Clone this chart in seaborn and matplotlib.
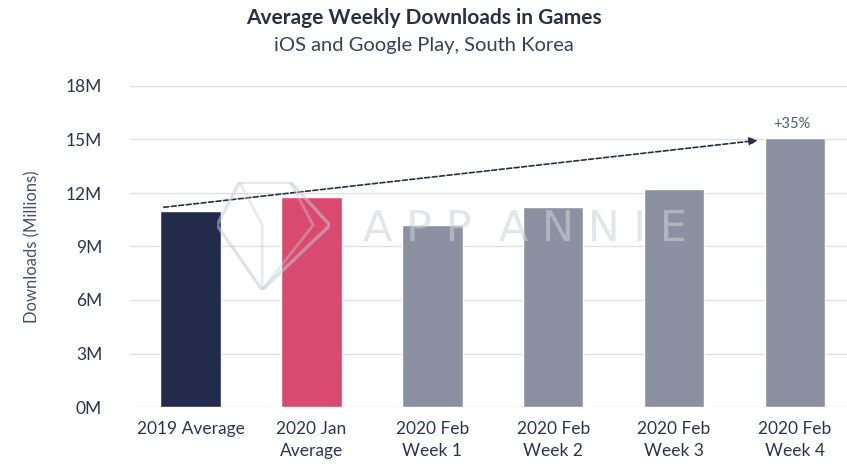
import matplotlib
matplotlib.use("Agg")
import matplotlib.pyplot as plt
from matplotlib.patches import Polygon
import seaborn as sns
import pandas as pd

# Weekly game downloads (millions), iOS + Google Play, South Korea
periods = ["2019 Average", "2020 Jan\nAverage", "2020 Feb\nWeek 1",
           "2020 Feb\nWeek 2", "2020 Feb\nWeek 3", "2020 Feb\nWeek 4"]
downloads = [11.0, 11.8, 10.2, 11.2, 12.2, 15.1]
bar_colors = ["#222b4c", "#d94a6e", "#8c91a1", "#8c91a1", "#8c91a1", "#8c91a1"]
y_ticks = [0, 3, 6, 9, 12, 15, 18]
y_tick_labels = ["0M", "3M", "6M", "9M", "12M", "15M", "18M"]
growth_label = "+35%"
trend_start = 11.2   # just above the 2019 average bar
trend_end = 14.95    # at the top of the final week

sns.set_theme(style="white")
plt.rcParams["font.family"] = ["Lato", "DejaVu Sans"]

df = pd.DataFrame({"period": periods, "downloads": downloads})

fig = plt.figure(figsize=(8.47, 4.65), dpi=100)
ax = fig.add_axes([130 / 847, 1 - 407 / 465, 1 - 130 / 847, (407 - 86) / 465])

sns.barplot(data=df, x="period", y="downloads", hue="period",
            palette=bar_colors, width=0.5, legend=False, ax=ax,
            saturation=1, zorder=3)

ax.set_xlim(-0.5, (847 - 190) / 121)
ax.set_ylim(0, 18)
ax.set_yticks(y_ticks)
ax.set_yticklabels(y_tick_labels)
ax.yaxis.grid(True, color="#e1e1e4", linewidth=1.0, zorder=0)
ax.set_axisbelow(True)
for s in ax.spines.values():
    s.set_visible(False)
ax.tick_params(axis="both", length=0, labelsize=12.5, colors="#2e3450")
ax.tick_params(axis="y", pad=20)
ax.tick_params(axis="x", pad=10)
for lbl in ax.get_xticklabels():
    lbl.set_linespacing(1.45)
ax.set_xlabel("")
ax.set_ylabel("Downloads (Millions)", fontsize=12, color="#4a5068", labelpad=18)

# faint watermark: gem outline and wordmark drawn over the bars
gem_ax = fig.add_axes([217 / 847, 1 - 290 / 465, 113 / 847, 108 / 465])
gem_ax.axis("off")
gem_ax.add_patch(Polygon([(0.2, 1.0), (0.65, 1.0), (1.0, 0.6), (0.4, 0.0),
                          (0.0, 0.6)], closed=True, fill=False,
                         edgecolor="#c9cbd4", alpha=0.5, lw=2.5))
gem_ax.add_patch(Polygon([(0.2, 1.0), (0.4, 0.6), (0.4, 0.0)], closed=False,
                         fill=False, edgecolor="#c9cbd4", alpha=0.4, lw=2.0))
gem_ax.add_patch(Polygon([(0.65, 1.0), (0.85, 0.6), (0.4, 0.0)], closed=False,
                         fill=False, edgecolor="#c9cbd4", alpha=0.4, lw=2.0))
gem_ax.set_xlim(0, 1)
gem_ax.set_ylim(0, 1)
ax.text(2.77, 10.0, "A P P  A N N I E", fontsize=31, color="#cfd1d9",
        alpha=0.55, ha="center", va="center", zorder=5,
        family="DejaVu Sans", fontweight="normal")

# dashed trend arrow from 2019 average to final week
ax.annotate("", xy=(4.69, trend_end), xytext=(-0.22, trend_start),
            arrowprops=dict(arrowstyle="-|>", linestyle=(0, (3, 1.5)),
                            color="#2a2f45", lw=1.2, mutation_scale=12,
                            shrinkA=0, shrinkB=0), zorder=6)
ax.text(4.97, 15.5, growth_label, ha="center", va="bottom", fontsize=10.5,
        color="#555a6a")

fig.text(0.5, 1 - 18 / 465, "Average Weekly Downloads in Games", ha="center",
         va="center", fontsize=15, fontweight="bold", color="#2a2f45")
fig.text(0.5, 1 - 45 / 465, "iOS and Google Play, South Korea", ha="center",
         va="center", fontsize=14.5, color="#3a3f55")

fig.savefig("out.png", dpi=100, facecolor="white")
